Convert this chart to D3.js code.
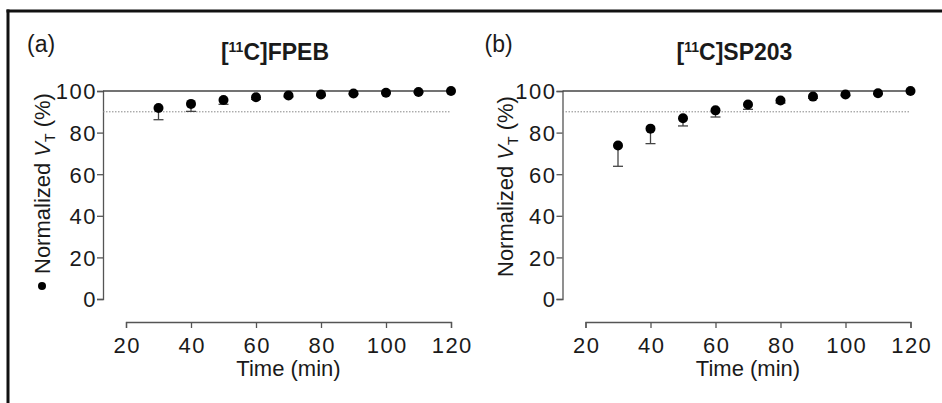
<!DOCTYPE html>
<html>
<head>
<meta charset="utf-8">
<script src="https://cdn.jsdelivr.net/npm/d3@7"></script>
<style>
  body { margin: 0; background: #fff; }
  text { font-family: "Liberation Sans", Arial, sans-serif; fill: #1a1a1a; }
</style>
</head>
<body>
<div id="chart"></div>
<script>
// data
var times = [30, 40, 50, 60, 70, 80, 90, 100, 110, 120];
var fpebMean = [91.8, 93.8, 95.7, 97.0, 97.8, 98.3, 98.8, 99.2, 99.5, 100];
var fpebSd = [5.6, 3.6, 2.1, 1.0, 0.6, 0.5, 0.3, 0.2, 0.1, 0];
var sp203Mean = [73.8, 81.9, 86.9, 90.7, 93.5, 95.4, 97.3, 98.3, 98.9, 100];
var sp203Sd = [10.0, 7.2, 3.7, 3.2, 2.3, 1.2, 0.8, 0.5, 0.3, 0];
var xTicks = [20, 40, 60, 80, 100, 120];
var yTicks = [0, 20, 40, 60, 80, 100];

var width = 942, height = 403;

var svg = d3.select("#chart")
    .append("svg")
    .attr("width", width)
    .attr("height", height);

// figure frame (only top and left edges are visible)
svg.append("line")
    .attr("x1", 6.5).attr("x2", width)
    .attr("y1", 11).attr("y2", 11)
    .attr("stroke", "#111").attr("stroke-width", 3);
svg.append("line")
    .attr("x1", 8).attr("x2", 8)
    .attr("y1", 9.5).attr("y2", height)
    .attr("stroke", "#111").attr("stroke-width", 3);

var y = d3.scaleLinear().domain([0, 100]).range([299, 91]);

drawPanel(0, "(a)", "FPEB", fpebMean, fpebSd, true, 27, 50, 274);
drawPanel(459.5, "(b)", "SP203", sp203Mean, sp203Sd, false, 25, 53, 277);

function drawPanel(dx, letter, tracer, means, sds, withBullet, letterX, labelX, labelY) {
    var g = svg.append("g").attr("transform", "translate(" + dx + ",0)");
    var x = d3.scaleLinear().domain([20, 120]).range([126, 451]);
    var yAxisX = 103;
    var xAxisY = 322;

    var data = times.map(function (t, i) {
        return { t: t, m: means[i], sd: sds[i] };
    });

    // panel letter
    g.append("text")
        .attr("x", letterX).attr("y", 52)
        .style("font-size", "23px")
        .text(letter);

    // title
    var title = g.append("text")
        .attr("x", 275)
        .attr("y", 60)
        .attr("text-anchor", "middle")
        .style("font-size", "23px")
        .attr("font-weight", 700);
    title.append("tspan").text("[");
    title.append("tspan").attr("dy", -8).style("font-size", "14px").text("11");
    title.append("tspan").attr("dy", 8).text("C]" + tracer);

    // y axis
    var yAxis = g.append("g")
        .attr("transform", "translate(" + yAxisX + ",0)")
        .call(d3.axisLeft(y).tickValues(yTicks).tickSize(6).tickPadding(0));
    yAxis.selectAll("path, line").attr("stroke", "#555").attr("stroke-width", 1.3);
    yAxis.selectAll("text").style("font-size", "22px").style("letter-spacing", "1.5px")
        .attr("fill", "#1a1a1a").attr("dy", "0.36em");

    // x axis
    var xAxis = g.append("g")
        .attr("transform", "translate(0," + xAxisY + ")")
        .call(d3.axisBottom(x).tickValues(xTicks).tickSize(6).tickPadding(9));
    xAxis.selectAll("path, line").attr("stroke", "#555").attr("stroke-width", 1.3);
    xAxis.selectAll("text").style("font-size", "22px").style("letter-spacing", "1.5px")
        .attr("dx", "0.75px").attr("fill", "#1a1a1a");

    // x label
    g.append("text")
        .attr("x", (x(20) + x(120)) / 2)
        .attr("y", 376)
        .attr("text-anchor", "middle")
        .style("font-size", "22px")
        .text("Time (min)");

    // y label
    var yl = g.append("text")
        .attr("transform", "translate(" + labelX + "," + labelY + ") rotate(-90)")
        .attr("text-anchor", "start")
        .style("font-size", "22px");
    yl.append("tspan").text("Normalized ");
    yl.append("tspan").style("font-style", "italic").text("V");
    yl.append("tspan").attr("dy", 5).style("font-size", "14px").text("T");
    yl.append("tspan").attr("dy", -5).text(" (%)");

    // legend symbol next to the label
    if (withBullet) {
        g.append("circle")
            .attr("cx", labelX - 8).attr("cy", labelY + 12)
            .attr("r", 4).attr("fill", "#000");
    }

    // reference lines at 100 and 90
    g.append("line")
        .attr("x1", yAxisX).attr("x2", x(120))
        .attr("y1", y(100)).attr("y2", y(100))
        .attr("stroke", "#444").attr("stroke-width", 1.3);
    g.append("line")
        .attr("x1", yAxisX).attr("x2", x(120))
        .attr("y1", y(90)).attr("y2", y(90))
        .attr("stroke", "#888").attr("stroke-width", 1)
        .attr("stroke-dasharray", "1.5,1.5");

    // error bars (lower only)
    var eb = g.append("g").selectAll("g")
        .data(data.filter(function (d) { return d.sd > 0; }))
        .join("g");
    eb.append("line")
        .attr("x1", function (d) { return x(d.t); })
        .attr("x2", function (d) { return x(d.t); })
        .attr("y1", function (d) { return y(d.m); })
        .attr("y2", function (d) { return y(d.m - d.sd); })
        .attr("stroke", "#444").attr("stroke-width", 1.3);
    eb.append("line")
        .attr("x1", function (d) { return x(d.t) - 5; })
        .attr("x2", function (d) { return x(d.t) + 5; })
        .attr("y1", function (d) { return y(d.m - d.sd); })
        .attr("y2", function (d) { return y(d.m - d.sd); })
        .attr("stroke", "#444").attr("stroke-width", 1.3);

    // dots
    g.append("g").selectAll("circle")
        .data(data)
        .join("circle")
        .attr("cx", function (d) { return x(d.t); })
        .attr("cy", function (d) { return y(d.m); })
        .attr("r", 5)
        .attr("fill", "#000");
}
</script>
</body>
</html>
